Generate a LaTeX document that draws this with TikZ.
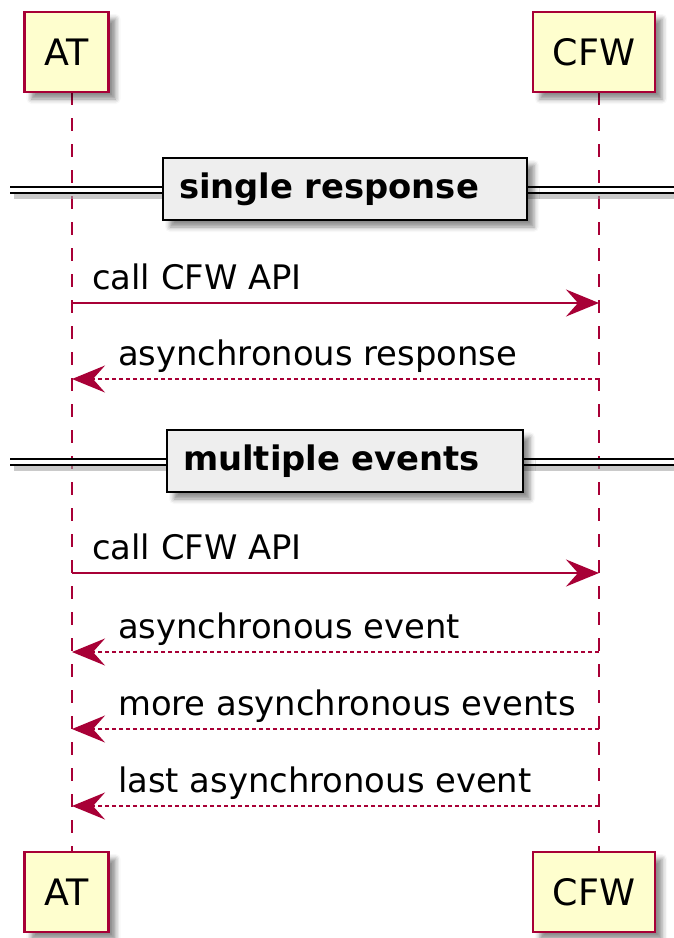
\documentclass[tikz,border=0pt]{standalone}
\usepackage{fontspec}
\setmainfont{DejaVu Sans}
\usetikzlibrary{arrows.meta,shadows.blur}
\definecolor{umlred}{HTML}{A80036}
\definecolor{umlbox}{HTML}{FEFECE}
\definecolor{sepfill}{HTML}{EEEEEE}

\tikzset{
  actor/.style={draw=umlred, fill=umlbox, line width=2.4pt,
    minimum height=80pt, inner xsep=20pt, inner ysep=0pt,
    font=\fontsize{36.4}{40}\selectfont,
    blur shadow={shadow xshift=7pt, shadow yshift=-7pt,
      shadow blur radius=5pt, shadow opacity=45}},
  lifeline/.style={draw=umlred, line width=2pt, dash pattern=on 13pt off 13pt},
  divider/.style={draw=black, fill=sepfill, line width=2.8pt,
    minimum height=62pt, inner xsep=16pt, inner ysep=0pt,
    text width=#1, align=left,
    font=\fontsize{33.8}{38}\selectfont\bfseries,
    blur shadow={shadow xshift=7pt, shadow yshift=-7pt,
      shadow blur radius=5pt, shadow opacity=45}},
  rail/.style={draw=black, line width=2pt, double=white, double distance=4pt},
  railshadow/.style={draw=black!35, line width=7pt, opacity=0.6},
  callmsg/.style={draw=umlred, line width=1.8pt, -{Stealth[length=33pt,width=27pt,inset=12pt]}},
  replymsg/.style={draw=umlred, line width=1.6pt, dash pattern=on 4pt off 3pt,
    -{Stealth[length=33pt,width=27pt,inset=12pt]}},
  msglabel/.style={inner sep=0pt, font=\fontsize{33.8}{38}\selectfont, text=black}
}

\begin{document}
\begin{tikzpicture}[x=1pt,y=-1pt]
\useasboundingbox (0,0) rectangle (674,938);

% lifeline end points
\coordinate (atA) at (72,92);
\coordinate (atB) at (72,852);
\coordinate (cfA) at (599,92);
\coordinate (cfB) at (599,852);
\draw[lifeline] (atA) -- (atB);
\draw[lifeline] (cfA) -- (cfB);

% participants, head and foot
\node[actor] (ATtop) at (66.5,52) {AT};
\node[actor] (CFWtop) at (594,52) {CFW};
\node[actor] (ATbot) at (66.5,892) {AT};
\node[actor] (CFWbot) at (594,892) {CFW};

% section divider: single response
\coordinate (d1L) at (10,190);
\coordinate (d1R) at (674,190);
\coordinate (d1Ls) at (14,195);
\coordinate (d1Rs) at (678,195);
\draw[railshadow] (d1Ls) -- (d1Rs);
\draw[rail] (d1L) -- (d1R);
\node[divider=332pt] (sep1) at (345,189) {single response};

% messages in the first section
\coordinate (m1a) at (72,303);
\coordinate (m1b) at (599,303);
\draw[callmsg] (m1a) -- (m1b);
\node[msglabel, anchor=base west] (t1) at (92,289) {call CFW API};

\coordinate (m2a) at (599,379);
\coordinate (m2b) at (72,379);
\draw[replymsg] (m2a) -- (m2b);
\node[msglabel, anchor=base west] (t2) at (118,365) {asynchronous response};

% section divider: multiple events
\coordinate (d2L) at (10,462);
\coordinate (d2R) at (674,462);
\coordinate (d2Ls) at (14,467);
\coordinate (d2Rs) at (678,467);
\draw[railshadow] (d2Ls) -- (d2Rs);
\draw[rail] (d2L) -- (d2R);
\node[divider=324pt] (sep2) at (345,461) {multiple events};

% messages in the second section
\coordinate (m3a) at (72,573);
\coordinate (m3b) at (599,573);
\draw[callmsg] (m3a) -- (m3b);
\node[msglabel, anchor=base west] (t3) at (92,559) {call CFW API};

\coordinate (m4a) at (599,652);
\coordinate (m4b) at (72,652);
\draw[replymsg] (m4a) -- (m4b);
\node[msglabel, anchor=base west] (t4) at (118,638) {asynchronous event};

\coordinate (m5a) at (599,729);
\coordinate (m5b) at (72,729);
\draw[replymsg] (m5a) -- (m5b);
\node[msglabel, anchor=base west] (t5) at (118,715) {more asynchronous events};

\coordinate (m6a) at (599,806);
\coordinate (m6b) at (72,806);
\draw[replymsg] (m6a) -- (m6b);
\node[msglabel, anchor=base west] (t6) at (118,792) {last asynchronous event};
\end{tikzpicture}
\end{document}
